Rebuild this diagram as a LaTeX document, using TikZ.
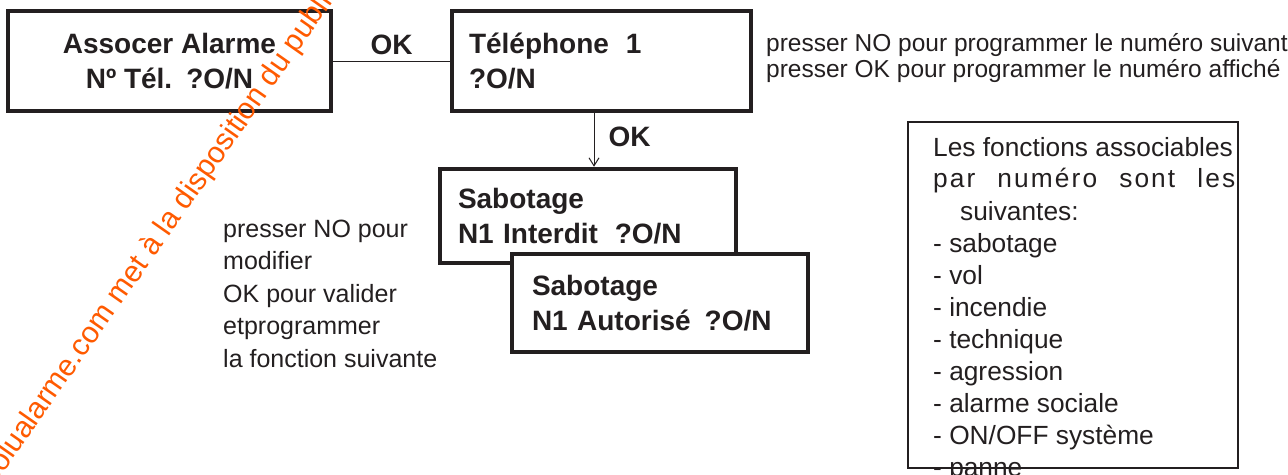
\documentclass[tikz,border=0pt]{standalone}
\usepackage{fontspec}
\setmainfont{Liberation Sans}
\usetikzlibrary{arrows.meta}
\definecolor{ink}{RGB}{35,31,32}
\definecolor{stamp}{RGB}{255,90,0}
\tikzset{
  lcd/.style={draw=ink, line width=4.5pt, rectangle, inner sep=0pt, text=ink,
    font=\bfseries\fontsize{28}{35}\selectfont},
  oklabel/.style={font=\bfseries\fontsize{28}{30}\selectfont, text=ink, inner sep=0pt},
  note/.style={font=\fontsize{25}{30}\selectfont, text=ink, inner sep=0pt, anchor=base west},
  listtext/.style={note, font=\fontsize{26.3}{30}\selectfont},
  link/.style={draw=ink, line width=1pt},
}
\begin{document}
\begin{tikzpicture}[x=1pt,y=-1pt]
  \useasboundingbox (0,0) rectangle (1288,474);
  % menu screens
  \node[lcd, minimum width=323pt, minimum height=100pt, align=center] (assoc) at (169.5,61)
    {Assocer Alarme\\Nº Tél.\hspace{.5em}?O/N};
  \node[lcd, minimum width=299pt, minimum height=100pt, text width=265pt, align=left] (tel) at (601.5,61)
    {Téléphone\hspace{.6em}1\\?O/N};
  \node[lcd, minimum width=296pt, minimum height=94pt, text width=260pt, align=left] (sabo1) at (588,216)
    {Sabotage\\N1 Interdit\hspace{.6em}?O/N};
  \node[lcd, fill=white, minimum width=296pt, minimum height=98pt, text width=256pt, align=left] (sabo2) at (660,303)
    {Sabotage\\N1 Autorisé\hspace{.5em}?O/N};
  % links
  \draw[link] (assoc.east) -- node[oklabel, above=6pt] (okright) {OK} (tel.west);
  \draw[link, -{Straight Barb[length=8pt,width=10pt]}] ([xshift=-7.5pt]tel.south)
    -- node[oklabel, pos=.45, right=14pt] (okdown) {OK} ([xshift=-7.5pt]tel.south |- sabo1.north);
  % notes
  \node[note, font=\fontsize{24.5}{24}\selectfont] (hintno) at (766,51) {presser NO pour programmer le numéro suivant};
  \node[note, font=\fontsize{24.5}{24}\selectfont] (hintok) at (766,77) {presser OK pour programmer le numéro affiché};
  \foreach \txt [count=\i] in {presser NO pour, modifier, OK pour valider, etprogrammer, la fonction suivante}
    \node[note] (modif\i) at (223,{237+32.5*(\i-1)}) {\txt};
  % list of functions
  \node[listtext] (fn0) at (933,156) {Les fonctions associables};
  \node[listtext, font=\fontsize{26.3}{30}\selectfont\addfontfeature{LetterSpace=8}] (fn1) at (933,187)
    {\makebox[302pt][s]{par numéro sont les}};
  \node[listtext] (fn2) at (960,220) {suivantes:};
  \foreach \txt [count=\i] in {sabotage, vol, incendie, technique, agression, alarme sociale, ON/OFF système, panne}
    \node[listtext] (item\i) at (933,{252+32*(\i-1)}) {- \txt};
  \node[draw=ink, line width=1.5pt, minimum width=330pt, minimum height=346pt, inner sep=0pt] (fnbox) at (1073,295) {};
  % watermark
  \node[font=\fontsize{30}{30}\selectfont, text=stamp, rotate=55, anchor=base west, inner sep=0pt] (mark)
    at (-5.5,486) {solualarme.com met à la disposition du public};
\end{tikzpicture}
\end{document}
